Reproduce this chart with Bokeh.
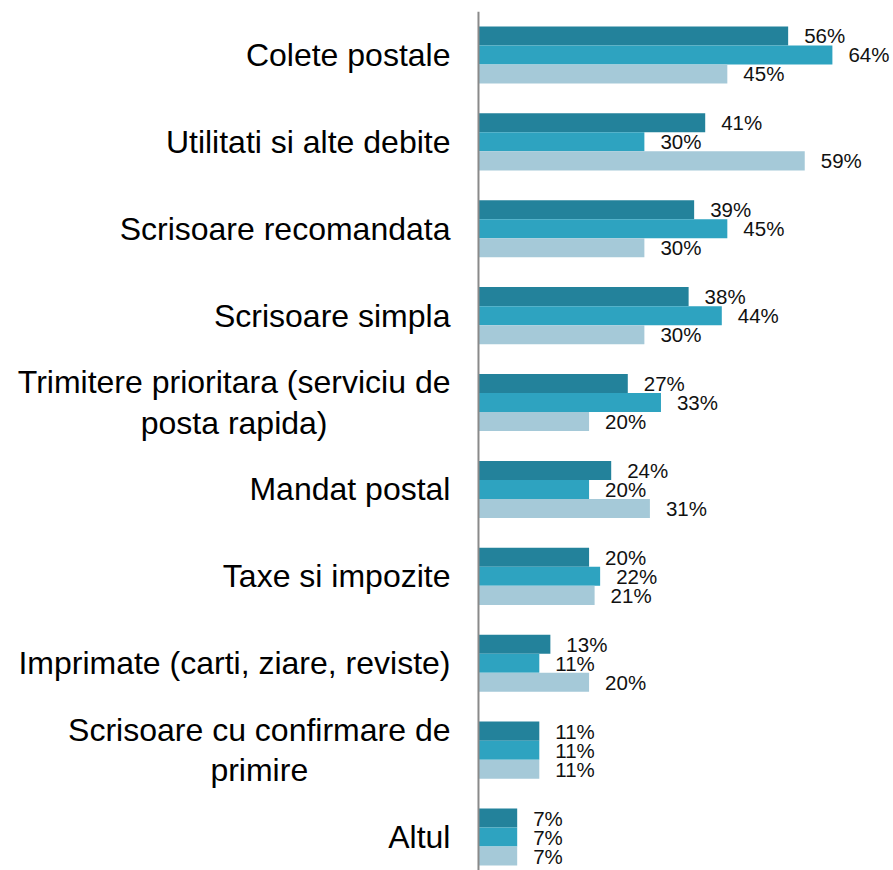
from bokeh.plotting import figure
from bokeh.models import ColumnDataSource, Range1d, Span
from bokeh.transform import dodge
from bokeh.core.properties import value
from bokeh.embed import file_html
from bokeh.resources import INLINE

categories = [
    "Colete postale",
    "Utilitati si alte debite",
    "Scrisoare recomandata",
    "Scrisoare simpla",
    "Trimitere prioritara (serviciu de\nposta rapida)",
    "Mandat postal",
    "Taxe si impozite",
    "Imprimate (carti, ziare, reviste)",
    "Scrisoare cu confirmare de\nprimire",
    "Altul",
]
series_1 = [56, 41, 39, 38, 27, 24, 20, 13, 11, 7]
series_2 = [64, 30, 45, 44, 33, 20, 22, 11, 11, 7]
series_3 = [45, 59, 30, 30, 20, 31, 21, 20, 11, 7]
colors = ["#23829B", "#2EA3C0", "#A5C9D8"]

n = len(categories)
ypos = [n - 1 - i for i in range(n)]

src = ColumnDataSource(dict(
    cat=categories, y=ypos,
    s1=series_1, s2=series_2, s3=series_3,
    l1=[f"{v}%" for v in series_1],
    l2=[f"{v}%" for v in series_2],
    l3=[f"{v}%" for v in series_3],
    zero=[0] * n,
))

p = figure(width=893, height=870, output_backend="svg", toolbar_location=None,
           x_range=Range1d(-84.99, 75.05), y_range=Range1d(-0.385, 9.50),
           x_axis_location=None, y_axis_location=None,
           min_border_left=8, min_border_right=0, min_border_top=11, min_border_bottom=0)
p.outline_line_color = None
p.xgrid.visible = False
p.ygrid.visible = False

bh = 0.219
offsets = [bh, 0.0, -bh]
for key, lab, col, off in zip(["s1", "s2", "s3"], ["l1", "l2", "l3"], colors, offsets):
    p.hbar(y=dodge("y", off), left=0, right=key, height=bh, source=src,
           fill_color=col, line_color=None)
    p.text(x=key, y=dodge("y", off), text=lab, source=src, x_offset=16,
           text_font=value("Liberation Sans"), text_font_size="20.5px",
           text_baseline="middle", text_align="left", text_color="#111111")

p.text(x="zero", y="y", text="cat", source=src, x_offset=-28,
       anchor="center_right", text_align="center", text_baseline="middle",
       text_font=value("Liberation Sans"), text_font_size="32px",
       text_line_height=1.13, text_color="#000000")

p.add_layout(Span(location=0, dimension="height", line_color="#8a8a8a", line_width=2))

open("out.html", "w").write(file_html(p, INLINE))
